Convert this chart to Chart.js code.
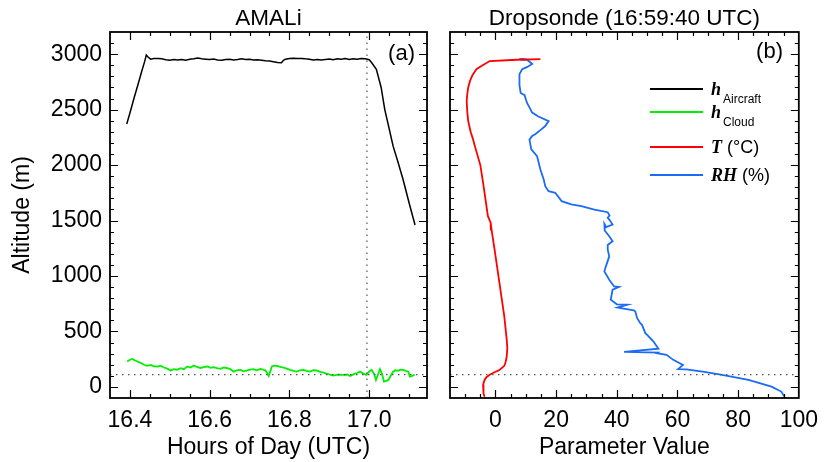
<!DOCTYPE html>
<html>
<head>
<meta charset="utf-8">
<script src="https://cdn.jsdelivr.net/npm/chart.js@4.4.1/dist/chart.umd.min.js"></script>
<style>
  body { margin: 0; background: #fff; }
  #wrap { position: relative; width: 827px; height: 462px; font-family: 'Liberation Sans', Arial, sans-serif; color: #000; }
  canvas { position: absolute; top: 0; }
  #cLeft  { left: 0; }
  #cRight { left: 440px; }
  .tag { position: absolute; width: 50px; text-align: right; font-size: 22px; line-height: 22px; }
  .key { position: absolute; left: 650px; width: 53px; height: 2px; }
  .lab { position: absolute; left: 711px; font-size: 18px; line-height: 18px; white-space: nowrap; }
  .sym { font-family: 'Liberation Serif', 'DejaVu Serif', serif; font-weight: bold; font-style: italic; }
  .sub { position: absolute; left: 723px; font-size: 12px; line-height: 12px; }
</style>
</head>
<body>
<div id="wrap">
  <canvas id="cLeft" width="440" height="462"></canvas>
  <canvas id="cRight" width="387" height="462"></canvas>

  <div class="tag" style="left:365px; top:42px;">(a)</div>
  <div class="tag" style="left:733px; top:40px;">(b)</div>

  <!-- legend of panel (b) -->
  <div class="key" style="top:88px;  background:#000;"></div>
  <div class="key" style="top:111px; background:#00f000;"></div>
  <div class="key" style="top:146px; background:#ff0000;"></div>
  <div class="key" style="top:174px; background:#1a6cf5;"></div>
  <div class="lab" style="top:80px;"><span class="sym">h</span></div>
  <div class="sub" style="top:93px;">Aircraft</div>
  <div class="lab" style="top:103px;"><span class="sym">h</span></div>
  <div class="sub" style="top:116px;">Cloud</div>
  <div class="lab" style="top:138px;"><span class="sym">T</span> (°C)</div>
  <div class="lab" style="top:166px;"><span class="sym">RH</span> (%)</div>
</div>

<script>
// ---- data ----

// AMALi: aircraft altitude [hour UTC, m]
const aircraft = [
  [16.392,2370],[16.400,2470],[16.410,2600],[16.420,2725],[16.430,2850],[16.437,2935],
  [16.441,2992],[16.446,2972],[16.452,2955],[16.46,2960],[16.47,2962],[16.48,2958],
  [16.49,2950],[16.50,2945],[16.51,2952],[16.52,2948],[16.53,2953],[16.54,2946],
  [16.55,2955],[16.56,2958],[16.57,2965],[16.58,2958],[16.59,2955],[16.60,2952],
  [16.61,2956],[16.62,2948],[16.63,2945],[16.64,2952],[16.65,2955],[16.66,2948],
  [16.67,2952],[16.68,2958],[16.69,2952],[16.70,2955],[16.71,2948],[16.72,2950],
  [16.73,2945],[16.74,2940],[16.75,2938],[16.76,2932],[16.77,2925],[16.78,2922],
  [16.785,2945],[16.79,2955],[16.80,2962],[16.81,2964],[16.82,2960],[16.83,2962],
  [16.84,2958],[16.85,2955],[16.86,2948],[16.87,2952],[16.88,2948],[16.89,2953],
  [16.90,2957],[16.91,2950],[16.92,2958],[16.93,2955],[16.94,2960],[16.95,2952],
  [16.96,2958],[16.97,2955],[16.98,2960],[16.99,2958],[17.00,2950],[17.005,2930],
  [17.018,2864],[17.03,2700],[17.039,2503],[17.05,2330],[17.06,2171],[17.072,2030],
  [17.085,1870],[17.10,1660],[17.115,1460]
];

// AMALi: cloud top height [hour UTC, m]
const cloud = [
  [16.393,229],[16.400,245],[16.406,252],[16.412,240],[16.419,229],[16.428,215],
  [16.435,200],[16.443,190],[16.452,198],[16.46,186],[16.469,184],[16.477,192],
  [16.485,175],[16.494,165],[16.502,148],[16.51,160],[16.518,155],[16.527,169],
  [16.535,160],[16.544,184],[16.552,175],[16.56,193],[16.568,180],[16.577,169],
  [16.585,178],[16.594,184],[16.602,172],[16.61,178],[16.618,170],[16.627,163],
  [16.635,175],[16.644,169],[16.652,160],[16.66,138],[16.668,150],[16.677,154],
  [16.685,140],[16.694,148],[16.702,155],[16.71,160],[16.718,150],[16.727,163],
  [16.734,155],[16.74,148],[16.745,120],[16.748,99],[16.752,140],[16.756,184],
  [16.762,192],[16.769,190],[16.777,180],[16.785,175],[16.793,165],[16.802,154],
  [16.81,145],[16.818,138],[16.827,150],[16.835,154],[16.843,145],[16.852,138],
  [16.86,150],[16.868,148],[16.877,135],[16.885,129],[16.895,118],[16.91,102],
  [16.92,110],[16.936,108],[16.945,112],[16.952,99],[16.962,115],[16.97,125],
  [16.977,138],[16.985,120],[16.993,108],[17.0,140],[17.006,154],[17.012,120],
  [17.017,63],[17.022,110],[17.027,160],[17.032,120],[17.037,48],[17.043,55],
  [17.048,63],[17.054,100],[17.06,138],[17.066,150],[17.072,145],[17.078,155],
  [17.085,154],[17.092,145],[17.098,138],[17.102,93],[17.108,100],[17.114,108]
];

// Dropsonde: temperature [°C, m]
const temperature = [
  [14.8,2955],[7.0,2950],[-1.9,2938],[-4.5,2895],[-6.3,2864],[-7.6,2810],[-8.4,2759],
  [-9.0,2700],[-9.3,2640],[-9.5,2578],[-9.3,2480],[-9.0,2397],[-8.2,2300],[-7.4,2232],
  [-6.8,2171],[-5.0,2000],[-4.1,1841],[-3.3,1690],[-2.5,1539],[-1.6,1480],[-1.5,1410],
  [-1.6,1470],[-1.2,1400],[-0.3,1238],[1.3,937],[2.9,635],[3.7,425],[3.9,350],
  [3.7,274],[3.3,220],[2.9,190],[1.3,152],[-0.5,130],[-1.9,110],[-3.0,88],[-3.6,63],
  [-4.1,20],[-4.1,-20],[-3.8,-60],[-3.6,-88]
];

// Dropsonde: relative humidity [%, m]
const humidity = [
  [9.5,2958],[7.8,2955],[10.4,2953],[8.0,2950],[10.5,2948],[12.1,2912],[10.5,2885],
  [8.8,2864],[7.9,2820],[7.8,2774],[8.0,2720],[8.3,2650],[9.6,2630],[10.0,2593],
  [10.4,2560],[11.2,2520],[12.1,2473],[14.0,2440],[17.5,2397],[16.4,2352],[15.0,2320],
  [13.2,2280],[12.1,2262],[11.2,2230],[11.6,2171],[11.8,2141],[13.7,2081],[14.8,1961],
  [15.9,1870],[16.4,1810],[17.5,1765],[19.7,1750],[21.8,1675],[25.0,1645],[28.3,1629],
  [32.6,1599],[37.0,1575],[37.6,1545],[37.0,1525],[37.5,1509],[38.6,1464],[36.5,1440],
  [35.9,1470],[36.0,1410],[37.5,1358],[38.6,1313],[37.0,1280],[37.0,1238],[37.5,1177],
  [36.4,1087],[35.9,1042],[37.5,967],[39.1,906],[40.7,901],[38.6,876],[38.0,786],
  [40.0,745],[43.5,742],[40.2,715],[45.6,690],[46.1,680],[46.7,620],[47.7,576],
  [48.3,560],[49.4,485],[50.0,470],[52.1,409],[53.7,345],[42.4,315],[53.5,310],
  [53.2,304],[56.4,289],[58.6,244],[61.8,199],[60.2,160],[62.9,158],[68.3,138],
  [74.7,108],[83.4,63],[91.0,3],[94.2,-42],[95.3,-88]
];

const cloudTopAlt  = 110;      // dotted horizontal line (m)
const sondeLaunch  = 16.9944;  // 16:59:40 UTC, dotted vertical line

// axis ranges and tick labels
const hourRange  = [16.35, 17.145];
const paramRange = [-15, 100];
const altRange   = [-100, 3200];
const hourTicks  = [16.4, 16.6, 16.8, 17.0];
const paramTicks = [0, 20, 40, 60, 80, 100];
const altTicks   = [0, 500, 1000, 1500, 2000, 2500, 3000];

// ---- helpers ----

Chart.defaults.font.family = "'Liberation Sans', Arial, sans-serif";
Chart.defaults.color = '#000';

function steps(from, to, step) {
  const out = [];
  for (let v = from; v <= to + step / 1000; v += step) out.push(+v.toFixed(4));
  return out;
}

function fixedTicks(values) {
  return scale => { scale.ticks = values.map(v => ({ value: v })); };
}

function curve(points, color, width) {
  return {
    data: points.map(([x, y]) => ({ x, y })),
    showLine: true,
    borderColor: color,
    borderWidth: width,
    pointRadius: 0,
    tension: 0,
  };
}

function dotted(points) {
  return {
    data: points.map(([x, y]) => ({ x, y })),
    showLine: true,
    borderColor: '#555',
    borderWidth: 1.2,
    borderDash: [1.5, 4.5],
    pointRadius: 0,
  };
}

// box round the plot plus IDL-style inward ticks on all four sides
const frame = {
  id: 'frame',
  afterDatasetsDraw(chart, args, o) {
    const { ctx, chartArea: a, scales: { x, y } } = chart;
    ctx.save();
    ctx.strokeStyle = '#000';
    ctx.lineWidth = 1.2;
    ctx.beginPath();
    const tick = (vals, len) => {
      vals.forEach(v => {
        const px = Math.round(x.getPixelForValue(v)) + 0.5;
        if (px <= a.left + 1 || px >= a.right - 1) return;
        ctx.moveTo(px, a.bottom); ctx.lineTo(px, a.bottom - len);
        ctx.moveTo(px, a.top);    ctx.lineTo(px, a.top + len);
      });
    };
    const tickY = (vals, len) => {
      vals.forEach(v => {
        const py = Math.round(y.getPixelForValue(v)) + 0.5;
        if (py <= a.top + 1 || py >= a.bottom - 1) return;
        ctx.moveTo(a.left, py);  ctx.lineTo(a.left + len, py);
        ctx.moveTo(a.right, py); ctx.lineTo(a.right - len, py);
      });
    };
    tick(o.xMinor, 4);  tick(o.xMajor, 8);
    tickY(o.yMinor, 4); tickY(o.yMajor, 8);
    ctx.stroke();
    ctx.lineWidth = 1.8;
    ctx.strokeRect(a.left, a.top, a.right - a.left, a.bottom - a.top);
    ctx.restore();
  }
};

function panelOptions(cfg) {
  return {
    responsive: false,
    animation: false,
    events: [],
    layout: { padding: { left: 0, right: cfg.padRight, top: 0, bottom: 0 } },
    plugins: {
      legend: { display: false },
      tooltip: { enabled: false },
      title: {
        display: true, text: cfg.title, fullSize: false, color: '#000',
        font: { size: 22.5, weight: 'normal' }, padding: { top: 5, bottom: 0 }
      },
      frame: { xMajor: cfg.xTicks, xMinor: cfg.xMinor, yMajor: altTicks, yMinor: steps(0, 3100, 100) }
    },
    scales: {
      x: {
        type: 'linear', min: cfg.xRange[0], max: cfg.xRange[1],
        grid: { display: false, drawTicks: false }, border: { display: false },
        afterBuildTicks: fixedTicks(cfg.xTicks),
        afterFit: s => { s.height = 64; },
        ticks: { font: { size: 23 }, padding: 9, maxRotation: 0, autoSkip: false, callback: cfg.xFormat },
        title: { display: true, text: cfg.xTitle, font: { size: 23 }, padding: { top: 0, bottom: 1 } }
      },
      y: {
        type: 'linear', min: altRange[0], max: altRange[1],
        grid: { display: false, drawTicks: false }, border: { display: false },
        afterBuildTicks: fixedTicks(altTicks),
        afterFit: s => { s.width = cfg.yWidth; },
        ticks: { display: cfg.yLabels, font: { size: 23 }, padding: 8, callback: v => String(v) },
        title: { display: cfg.yLabels, text: 'Altitude (m)', font: { size: 23 }, padding: { top: 9, bottom: 0 } }
      }
    }
  };
}

// ---- panel (a): AMALi ----
new Chart(document.getElementById('cLeft'), {
  type: 'scatter',
  data: {
    datasets: [
      dotted([[sondeLaunch, altRange[0]], [sondeLaunch, altRange[1]]]),
      dotted([[hourRange[0], cloudTopAlt], [hourRange[1], cloudTopAlt]]),
      curve(aircraft, '#000000', 1.5),
      curve(cloud, '#00f000', 1.8),
    ]
  },
  options: panelOptions({
    title: 'AMALi', padRight: 13, yWidth: 110, yLabels: true,
    xRange: hourRange, xTicks: hourTicks, xMinor: steps(16.4, 17.1, 0.05),
    xFormat: v => Number(v).toFixed(1), xTitle: 'Hours of Day (UTC)'
  }),
  plugins: [frame]
});

// ---- panel (b): dropsonde ----
new Chart(document.getElementById('cRight'), {
  type: 'scatter',
  data: {
    datasets: [
      dotted([[paramRange[0], cloudTopAlt], [paramRange[1], cloudTopAlt]]),
      curve(temperature, '#ff0000', 1.8),
      curve(humidity, '#1a6cf5', 1.8),
    ]
  },
  options: panelOptions({
    title: 'Dropsonde (16:59:40 UTC)', padRight: 22, yWidth: 10, yLabels: false,
    xRange: paramRange, xTicks: paramTicks, xMinor: steps(-10, 95, 5),
    xFormat: v => String(v), xTitle: 'Parameter Value'
  }),
  plugins: [frame]
});
</script>
</body>
</html>
